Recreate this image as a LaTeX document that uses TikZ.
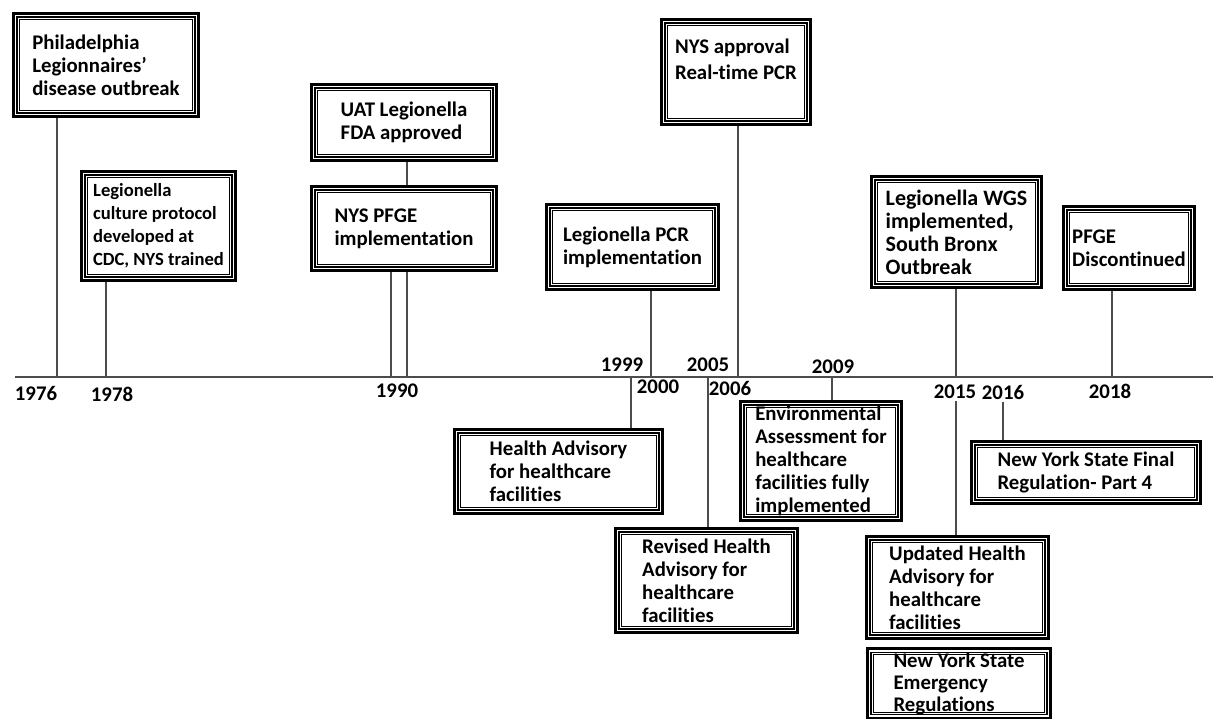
\documentclass[tikz,border=0pt]{standalone}
\usepackage{fontspec}
\setmainfont{Carlito}[Ligatures=NoCommon]
\usetikzlibrary{positioning}

\begin{document}
\begin{tikzpicture}[x=0.5pt,y=-0.5pt,
  event/.style={align=left, inner sep=0pt, font=\fontsize{10.4}{11.5}\selectfont\bfseries},
  year/.style={inner sep=1pt, font=\fontsize{10.4}{12}\selectfont\bfseries},
  tl/.style={draw=black!70, line width=0.8pt}]

  \useasboundingbox (0,0) rectangle (1213,718);

  % time axis
  \coordinate (a0) at (15,377);
  \coordinate (a1) at (1213,377);
  \draw[tl] (a0) -- (a1);

  \coordinate (t1976) at (57,377);
  \coordinate (t1978) at (106,377);
  \coordinate (t1990a) at (391,377);
  \coordinate (t1990b) at (407,377);
  \coordinate (t1999) at (631,377);
  \coordinate (t2000) at (651,377);
  \coordinate (t2005) at (708,377);
  \coordinate (t2006) at (738,377);
  \coordinate (t2009) at (832,377);
  \coordinate (t2015) at (956,377);
  \coordinate (t2018) at (1112,377);

  \node[year] (y1976) at (36,393) {1976};
  \node[year] (y1978) at (112,394) {1978};
  \node[year] (y1990) at (397,391) {1990};
  \node[year] (y1999) at (622,365) {1999};
  \node[year] (y2000) at (658,387) {2000};
  \node[year] (y2005) at (708,365) {2005};
  \node[year] (y2006) at (730,388) {2006};
  \node[year] (y2009) at (833,367) {2009};
  \node[year] (y2015) at (955,392) {2015};
  \node[year] (y2016) at (1003,392) {2016};
  \node[year] (y2018) at (1110,391) {2018};

  % above the axis
  \node[event, minimum width=94pt, minimum height=53pt] (philly) at (106,65) {Philadelphia\\Legionnaires'\\disease outbreak};
  \node[event, font=\fontsize{9.3}{11.5}\selectfont\bfseries, minimum width=78.5pt, minimum height=56pt] (culture) at (158.5,226) {Legionella\\culture protocol\\developed at\\CDC, NYS trained};
  \node[event, minimum width=94pt, minimum height=39.5pt] (uat) at (404,122.5) {UAT Legionella\\FDA approved};
  \node[event, minimum width=94pt, minimum height=43.5pt] (pfge) at (404,228.5) {NYS PFGE\\implementation};
  \node[event, minimum width=76pt, minimum height=54pt, inner ysep=0pt] (nysrt) at (736,72) {NYS approval\\[1.5pt]Real-time PCR\\[1.5pt]};
  \node[event, minimum width=87.5pt, minimum height=44pt] (pcr) at (632.5,247) {Legionella PCR\\implementation};
  \node[event, font=\fontsize{11}{11.5}\selectfont\bfseries, minimum width=86.5pt, minimum height=57pt] (wgs) at (956.5,232) {Legionella WGS\\implemented,\\South Bronx\\Outbreak};
  \node[event, minimum width=67pt, minimum height=43pt] (disc) at (1129,248) {PFGE\\Discontinued};

  % below the axis
  \node[event, minimum width=105.5pt, minimum height=43.5pt] (adv) at (558.5,471.5) {Health Advisory\\for healthcare\\facilities};
  \node[event, minimum width=92.5pt, minimum height=53.5pt] (revadv) at (706.5,580.5) {Revised Health\\Advisory for\\healthcare\\facilities};
  \node[event, minimum width=82pt, minimum height=61pt] (env) at (821,461) {Environmental\\Assessment for\\healthcare\\facilities fully\\implemented};
  \node[event, minimum width=116pt, minimum height=32.5pt] (final) at (1086,472.5) {New York State Final\\Regulation- Part 4};
  \node[event, minimum width=92.5pt, minimum height=52.5pt] (upd) at (957.5,587.5) {Updated Health\\Advisory for\\healthcare\\facilities};
  \node[event, font=\fontsize{10.4}{11}\selectfont\bfseries, minimum width=93pt, inner ysep=2.5pt, anchor=north] (emerg) at (959,647) {New York State\\Emergency\\Regulations};

  % triple frames
  \foreach \n in {philly,culture,uat,pfge,nysrt,pcr,wgs,disc,adv,revadv,env,final,upd,emerg}{
    \draw[line width=1.6pt] ([shift={(0.8pt,0.8pt)}]\n.south west) rectangle ([shift={(-0.8pt,-0.8pt)}]\n.north east);
    \draw[line width=0.6pt] ([shift={(2.7pt,2.7pt)}]\n.south west) rectangle ([shift={(-2.7pt,-2.7pt)}]\n.north east);
    \draw[line width=0.6pt] ([shift={(3.9pt,3.9pt)}]\n.south west) rectangle ([shift={(-3.9pt,-3.9pt)}]\n.north east);
  }

  % connectors
  \draw[tl] (philly.south -| t1976) -- (t1976);
  \draw[tl] (culture.south -| t1978) -- (t1978);
  \draw[tl] (uat.south -| t1990b) -- (pfge.north -| t1990b);
  \draw[tl] (pfge.south -| t1990a) -- (t1990a);
  \draw[tl] (pfge.south -| t1990b) -- (t1990b);
  \draw[tl] (t1999) -- (adv.north -| t1999);
  \draw[tl] (pcr.south -| t2000) -- (t2000);
  \draw[tl] (t2005) -- (revadv.north -| t2005);
  \draw[tl] (nysrt.south -| t2006) -- (t2006);
  \draw[tl] (t2009) -- (env.north -| t2009);
  \draw[tl] (wgs.south -| t2015) -- (t2015);
  \draw[tl] (y2015.south -| t2015) -- (upd.north -| t2015);
  \draw[tl] (y2016.south) -- (final.north -| y2016);
  \draw[tl] (disc.south -| t2018) -- (t2018);

\end{tikzpicture}
\end{document}
